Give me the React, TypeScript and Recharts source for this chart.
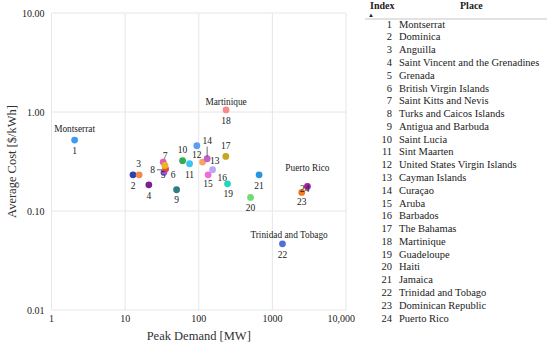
import React from 'react';
import { ScatterChart, Scatter, XAxis, YAxis, CartesianGrid, Cell } from 'recharts';

// places, indexed 1..24
const places = [
  'Montserrat',
  'Dominica',
  'Anguilla',
  'Saint Vincent and the Grenadines',
  'Grenada',
  'British Virgin Islands',
  'Saint Kitts and Nevis',
  'Turks and Caicos Islands',
  'Antigua and Barbuda',
  'Saint Lucia',
  'Sint Maarten',
  'United States Virgin Islands',
  'Cayman Islands',
  'Curaçao',
  'Aruba',
  'Barbados',
  'The Bahamas',
  'Martinique',
  'Guadeloupe',
  'Haiti',
  'Jamaica',
  'Trinidad and Tobago',
  'Dominican Republic',
  'Puerto Rico',
];

// peak demand [MW]
const peakDemand = [
  2.06, 12.8, 15.5, 21.0, 33.6, 35.5, 32.9, 34.7, 50, 60.3, 75, 94.2,
  112.7, 130, 134, 154, 233, 235, 246, 505, 660, 1371, 2506, 2993,
];

// average cost [$/kWh]
const avgCost = [
  0.521, 0.232, 0.232, 0.184, 0.245, 0.265, 0.312, 0.288, 0.164, 0.322, 0.3, 0.456,
  0.312, 0.337, 0.232, 0.261, 0.356, 1.05, 0.188, 0.137, 0.232, 0.0466, 0.154, 0.177,
];

const xTicks = [1, 10, 100, 1000, 10000];
const yTicks = [0.01, 0.1, 1, 10];
const namedPoints = [1, 18, 22, 24];

const pointColors = [
  '#3d9cf2', '#2f3fae', '#ef8a4e', '#7d1f90', '#875dd6', '#e6434f', '#e35db6', '#e8b524',
  '#2e7f82', '#30ad50', '#38c6f0', '#5b9cf5', '#f5a55e', '#c25fc9', '#f06ed2', '#b9a9f4',
  '#c8a620', '#f68b8b', '#22d6bf', '#72dc72', '#2995df', '#5271d8', '#f27a1f', '#a3229f',
];

// label placement relative to point centre
const numOffset: Record<number, [number, number]> = {
  1: [0, 10.5], 2: [0, 11], 3: [-0.6, -10.7], 4: [0, 11], 5: [-0.7, 3], 6: [7.6, 6.4],
  7: [2, -6.5], 8: [-12.3, 4.3], 9: [0, 10.7], 10: [0, -11], 11: [0, 11], 12: [0, 9.7],
  13: [12.3, -0.6], 14: [0, -17.3], 15: [0, 9], 16: [9.6, 8.3], 17: [0, -10.7], 18: [0, 11],
  19: [0.6, 10.3], 20: [0, 10.6], 21: [0, 10.7], 22: [0, 11], 23: [0, 9.6], 24: [-2.7, 2.6],
};
const nameOffset: Record<number, [number, number]> = {
  1: [0, -11.3], 18: [0, -7.7], 22: [6.6, -9], 24: [0, -18.4],
};
const leaders: Record<number, [number, number, number, number]> = {
  8: [-8, 4.3, -3, 4.3],
  14: [0, -12, 0, -2],
};

const data = places.map((place, i) => ({
  index: i + 1,
  place,
  peak: peakDemand[i],
  cost: avgCost[i],
  named: namedPoints.includes(i + 1),
}));

const FONT = 'Liberation Serif, Tinos, DejaVu Serif, Times New Roman, serif';

function Dot(props: any) {
  return <circle cx={props.cx} cy={props.cy} r={3.4} fill={props.fill} />;
}

function PointLabel(props: any) {
  const { cx, cy, payload } = props;
  const idx = payload.index;
  const [dx, dy] = numOffset[idx];
  const nm = nameOffset[idx];
  const ln = leaders[idx];
  return (
    <g>
      {ln && (
        <line x1={cx + ln[0]} y1={cy + ln[1]} x2={cx + ln[2]} y2={cy + ln[3]} stroke="#444" strokeWidth={0.8} />
      )}
      <text x={cx + dx} y={cy + dy} textAnchor="middle" dominantBaseline="central" fontSize={9.5} fill="#222" style={{ fontFamily: FONT }}>
        {idx}
      </text>
      {payload.named && nm && (
        <text x={cx + nm[0]} y={cy + nm[1]} textAnchor="middle" dominantBaseline="central" fontSize={9.3} fill="#222" style={{ fontFamily: FONT }}>
          {payload.place}
        </text>
      )}
    </g>
  );
}

const fmtX = (v: number) => (v === 10000 ? '10,000' : String(v));
const fmtY = (v: number) => v.toFixed(2);

export default function App() {
  return (
    <div style={{ position: 'absolute', left: 0, top: 0, width: 550, height: 345, background: '#fff', fontFamily: FONT }}>
      <ScatterChart width={355} height={345} margin={{ top: 13, right: 9, bottom: 0, left: 0 }} style={{ fontFamily: FONT }}>
        <CartesianGrid stroke="#e6e6e6" />
        <XAxis
          type="number"
          dataKey="peak"
          scale="log"
          domain={[1, 10000]}
          ticks={xTicks}
          allowDataOverflow
          height={35}
          tickFormatter={fmtX}
          axisLine={false}
          tickLine={false}
          tickSize={3}
          tick={{ fontSize: 10, fill: '#222', style: { fontFamily: FONT } }}
          label={{ value: 'Peak Demand [MW]', position: 'insideBottom', offset: 5, style: { fontSize: 12.5, fill: '#333', fontFamily: FONT } }}
        />
        <YAxis
          type="number"
          dataKey="cost"
          scale="log"
          domain={[0.01, 10]}
          ticks={yTicks}
          allowDataOverflow
          width={51.5}
          tickFormatter={fmtY}
          axisLine={false}
          tickLine={false}
          tickSize={5}
          tick={{ fontSize: 10, fill: '#222', style: { fontFamily: FONT } }}
          label={{ value: 'Average Cost [$/kWh]', angle: -90, position: 'insideLeft', dx: 7, style: { textAnchor: 'middle', fontSize: 12.5, fill: '#333', fontFamily: FONT } }}
        />
        <Scatter data={data} shape={Dot} isAnimationActive={false}>
          {data.map((d, i) => (
            <Cell key={d.index} fill={pointColors[i]} />
          ))}
        </Scatter>
        <Scatter data={data} shape={PointLabel} isAnimationActive={false} />
      </ScatterChart>

      <div style={{ position: 'absolute', left: 370, top: 0, fontSize: 10, fontWeight: 'bold', lineHeight: '12px', color: '#222' }}>Index</div>
      <div style={{ position: 'absolute', left: 460, top: 0, fontSize: 10, fontWeight: 'bold', lineHeight: '12px', color: '#222' }}>Place</div>
      <div style={{ position: 'absolute', left: 368, top: 11, fontSize: 6, lineHeight: '8px', color: '#222' }}>▲</div>
      <div style={{ position: 'absolute', left: 365, top: 18, width: 182, height: 2, background: '#e2e2e2' }} />
      <div style={{ position: 'absolute', left: 360, top: 18.6, fontSize: 10.5, lineHeight: '12.78px', color: '#222' }}>
        {places.map((p, i) => (
          <div key={p} style={{ display: 'flex', whiteSpace: 'nowrap' }}>
            <span style={{ width: 32, textAlign: 'right' }}>{i + 1}</span>
            <span style={{ marginLeft: 7 }}>{p}</span>
          </div>
        ))}
      </div>
    </div>
  );
}
